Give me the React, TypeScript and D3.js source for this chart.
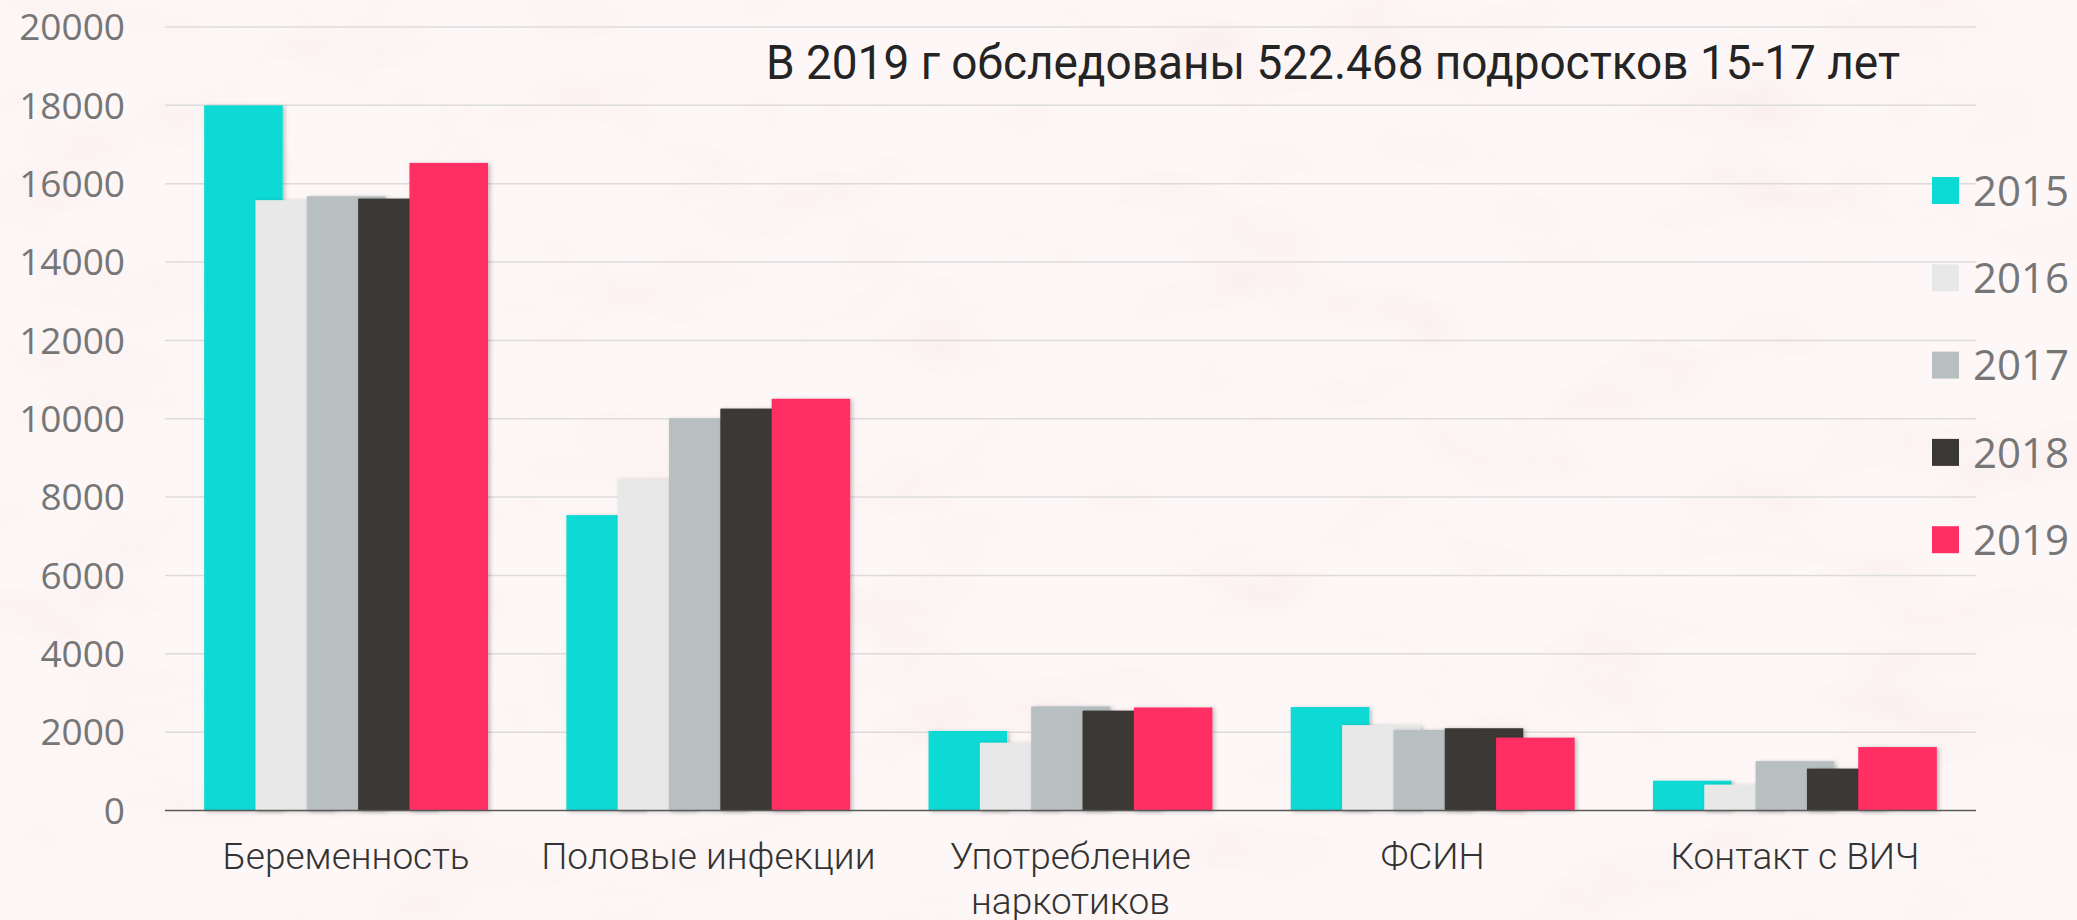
import React, { useRef, useEffect } from "react";
import * as d3 from "d3";

const categories = [
  "Беременность",
  "Половые инфекции",
  "Употребление наркотиков",
  "ФСИН",
  "Контакт с ВИЧ",
];
const years = ["2015", "2016", "2017", "2018", "2019"];
const values2015 = [18000, 7540, 2030, 2640, 760];
const values2016 = [15580, 8460, 1730, 2180, 660];
const values2017 = [15680, 10010, 2660, 2060, 1260];
const values2018 = [15620, 10260, 2550, 2100, 1070];
const values2019 = [16530, 10510, 2630, 1860, 1620];
const yTicks = [0, 2000, 4000, 6000, 8000, 10000, 12000, 14000, 16000, 18000, 20000];
const colors = ["#0bdad5", "#e8e8e8", "#b8bfc1", "#3a3836", "#ff2e63"];
const title = "В 2019 г обследованы 522.468 подростков 15-17 лет";

const App = () => {
  const svgRef = useRef<SVGSVGElement>(null);
  const width = 2077;
  const height = 920;
  const margin = { top: 27, right: 101, bottom: 109.5, left: 165 };

  useEffect(() => {
    const svg = d3.select(svgRef.current);
    svg.selectAll("*").remove();

    const series = [values2015, values2016, values2017, values2018, values2019];

    // background with marble-ish texture
    const defs = svg.append("defs");
    const tex = defs.append("filter").attr("id", "marble").attr("x", 0).attr("y", 0).attr("width", "100%").attr("height", "100%");
    tex.append("feTurbulence").attr("type", "fractalNoise").attr("baseFrequency", "0.006 0.012").attr("numOctaves", 5).attr("seed", 7);
    tex
      .append("feColorMatrix")
      .attr("type", "matrix")
      .attr("values", "0 0 0 0 0.95  0 0 0 0 0.78  0 0 0 0 0.80  2.2 0 0 0 -1.0");
    const shadow = defs.append("filter").attr("id", "shadow").attr("x", "-10%").attr("y", "-10%").attr("width", "130%").attr("height", "120%");
    shadow.append("feDropShadow").attr("dx", 2).attr("dy", 1).attr("stdDeviation", 2).attr("flood-color", "#000").attr("flood-opacity", 0.25);

    svg.append("rect").attr("width", width).attr("height", height).attr("fill", "#fdf8f7");
    svg.append("rect").attr("width", width).attr("height", height).attr("filter", "url(#marble)").attr("opacity", 0.45);

    const x0 = d3
      .scaleBand()
      .domain(categories)
      .range([margin.left, width - margin.right])
      .paddingInner(0);
    const y = d3.scaleLinear().domain([0, 20000]).range([height - margin.bottom, margin.top]);

    const barW = x0.bandwidth() * 0.217;
    const step = x0.bandwidth() * 0.1417;

    // gridlines
    svg
      .append("g")
      .selectAll("line")
      .data(yTicks.filter((t) => t > 0))
      .enter()
      .append("line")
      .attr("x1", margin.left)
      .attr("x2", width - margin.right)
      .attr("y1", (d) => y(d))
      .attr("y2", (d) => y(d))
      .attr("stroke", "#dcdcdc")
      .attr("stroke-width", 1.5);

    // y tick labels
    svg
      .append("g")
      .selectAll("text")
      .data(yTicks)
      .enter()
      .append("text")
      .attr("x", 125)
      .attr("y", (d) => y(d))
      .attr("dy", "0.36em")
      .attr("text-anchor", "end")
      .style("font-family", "'Open Sans', sans-serif")
      .style("font-size", "37px")
      .style("fill", "#767676")
      .text((d) => d);

    // bars, drawn year by year so later years overlap earlier ones
    series.forEach((vals, i) => {
      svg
        .append("g")
        .attr("filter", "url(#shadow)")
        .selectAll("rect")
        .data(vals.map((v, j) => ({ cat: categories[j], v })))
        .enter()
        .append("rect")
        .attr("x", (d) => x0(d.cat)! + x0.bandwidth() / 2 + (i - 2) * step - barW / 2)
        .attr("y", (d) => y(d.v))
        .attr("width", barW)
        .attr("height", (d) => y(0) - y(d.v))
        .attr("fill", colors[i]);
    });

    // x axis line
    svg
      .append("line")
      .attr("x1", margin.left)
      .attr("x2", width - margin.right)
      .attr("y1", y(0))
      .attr("y2", y(0))
      .attr("stroke", "#595959")
      .attr("stroke-width", 1.5);

    // category labels (long ones wrap to two lines)
    categories.forEach((c) => {
      const lines = c.length > 20 ? c.split(" ") : [c];
      const t = svg
        .append("text")
        .attr("x", x0(c)! + x0.bandwidth() / 2)
        .attr("y", 869)
        .attr("text-anchor", "middle")
        .style("font-family", "Roboto, sans-serif")
        .style("font-weight", 300)
        .style("font-size", "37px")
        .style("fill", "#333333");
      lines.forEach((l, k) => {
        t.append("tspan")
          .attr("x", x0(c)! + x0.bandwidth() / 2)
          .attr("dy", k === 0 ? 0 : 45)
          .text(l);
      });
    });

    // legend
    const legend = svg
      .append("g")
      .selectAll("g")
      .data(years)
      .enter()
      .append("g")
      .attr("transform", (d, i) => `translate(1932, ${177 + i * 87.3})`);
    legend
      .append("rect")
      .attr("width", 27)
      .attr("height", 27)
      .attr("fill", (d, i) => colors[i]);
    legend
      .append("text")
      .attr("x", 41)
      .attr("y", 13.5)
      .attr("dy", "0.36em")
      .style("font-family", "'Open Sans', sans-serif")
      .style("font-size", "42px")
      .style("fill", "#767676")
      .text((d) => d);

    // title
    svg
      .append("text")
      .attr("x", 766)
      .attr("y", 79)
      .attr("textLength", 1134)
      .attr("lengthAdjust", "spacingAndGlyphs")
      .style("font-family", "Roboto, sans-serif")
      .style("font-size", "48px")
      .style("fill", "#242424")
      .text(title);
  }, []);

  return (
    <svg
      ref={svgRef}
      width={width}
      height={height}
      style={{ position: "absolute", left: 0, top: 0, display: "block" }}
    ></svg>
  );
};

export default App;
